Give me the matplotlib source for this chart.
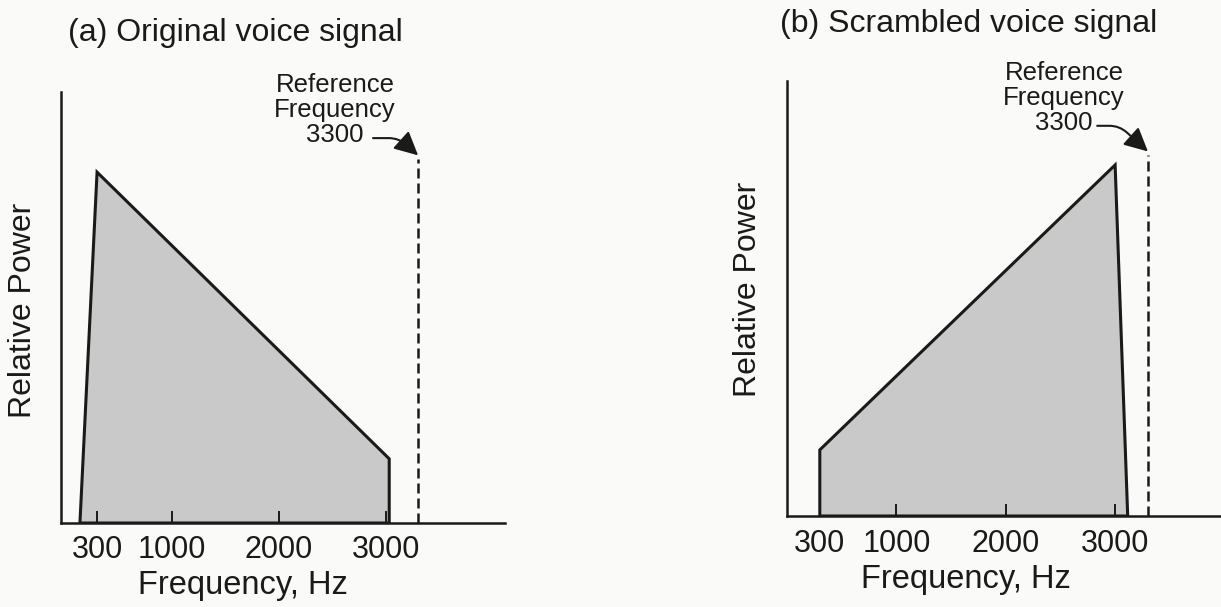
import matplotlib
matplotlib.use("Agg")
import matplotlib.pyplot as plt

plt.rcParams['font.family'] = ['Liberation Sans', 'DejaVu Sans']

# Data (frequency in Hz, power relative to axis height)
freq_a = [140, 300, 3030, 3030]
power_a = [0.0, 0.814, 0.149, 0.0]
freq_b = [300, 300, 3000, 3115]
power_b = [0.0, 0.152, 0.807, 0.0]
ref_freq = 3300
ref_top_a = 0.845
ref_top_b = 0.830
tick_vals = [300, 1000, 2000, 3000]
tick_labels = ["300", "1000", "2000", "3000"]

W, H = 1221, 607
fig = plt.figure(figsize=(W / 100, H / 100), dpi=100, facecolor="#fafaf8")

def rect(x0, y0, x1, y1):
    # pixel box (left, top, right, bottom) -> figure fraction
    return [x0 / W, 1 - y1 / H, (x1 - x0) / W, (y1 - y0) / H]

ax_a = fig.add_axes(rect(61, 92, 505, 523))
ax_b = fig.add_axes(rect(787, 81, 1221, 516))

panels = [
    (ax_a, freq_a, power_a, ref_top_a, (-37, 4112), "(a) Original voice signal",
     (0.016, 1.137), (0.41, -0.144), (-0.086, 0.494), (2523, 0.958), (2879, 0.893)),
    (ax_b, freq_b, power_b, ref_top_b, (0, 3968), "(b) Scrambled voice signal",
     (-0.016, 1.131), (0.412, -0.145), (-0.09, 0.52), (2534, 0.961), (2836, 0.897)),
]

for ax, fx, py, rtop, xlim, title, tpos, xlpos, ylpos, rtxt, astart in panels:
    ax.set_facecolor("none")
    ax.fill(fx, py, facecolor="#c9c9c9", edgecolor="#1a1a1a", linewidth=2.2, zorder=1)
    ax.plot([ref_freq, ref_freq], [0, rtop], color="#1a1a1a", linewidth=1.8,
            linestyle=(0, (4.0, 2.0)), zorder=2)

    ax.set_xlim(*xlim)
    ax.set_ylim(0, 1)
    for side in ["top", "right"]:
        ax.spines[side].set_visible(False)
    for side in ["left", "bottom"]:
        ax.spines[side].set_linewidth(1.8)
        ax.spines[side].set_color("#1a1a1a")

    ax.set_yticks([])
    ax.set_xticks(tick_vals)
    ax.set_xticklabels(tick_labels, fontsize=22, color="#1a1a1a")
    ax.tick_params(axis="x", direction="in", length=9, width=1.4, pad=9, colors="#1a1a1a")

    ax.set_xlabel("Frequency, Hz", fontsize=23.5, color="#1a1a1a", va="center")
    ax.xaxis.set_label_coords(*xlpos)
    ax.set_ylabel("Relative Power", fontsize=23, color="#1a1a1a", va="center")
    ax.yaxis.set_label_coords(*ylpos)

    ax.text(tpos[0], tpos[1], title, transform=ax.transAxes, fontsize=23,
            color="#1a1a1a", ha="left", va="center")

    ax.text(rtxt[0], rtxt[1], "Reference\nFrequency\n3300", fontsize=18.5,
            color="#1a1a1a", ha="center", va="center", linespacing=1.05,
            multialignment="center")
    ax.annotate("", xy=(ref_freq, rtop + 0.008), xytext=astart,
                arrowprops=dict(arrowstyle="-|>,head_length=0.9,head_width=0.45",
                                connectionstyle="angle,angleA=0,angleB=-42,rad=10",
                                color="#1a1a1a", linewidth=1.5, shrinkA=0, shrinkB=0,
                                mutation_scale=16))

fig.savefig("out.png", dpi=100, facecolor=fig.get_facecolor())
